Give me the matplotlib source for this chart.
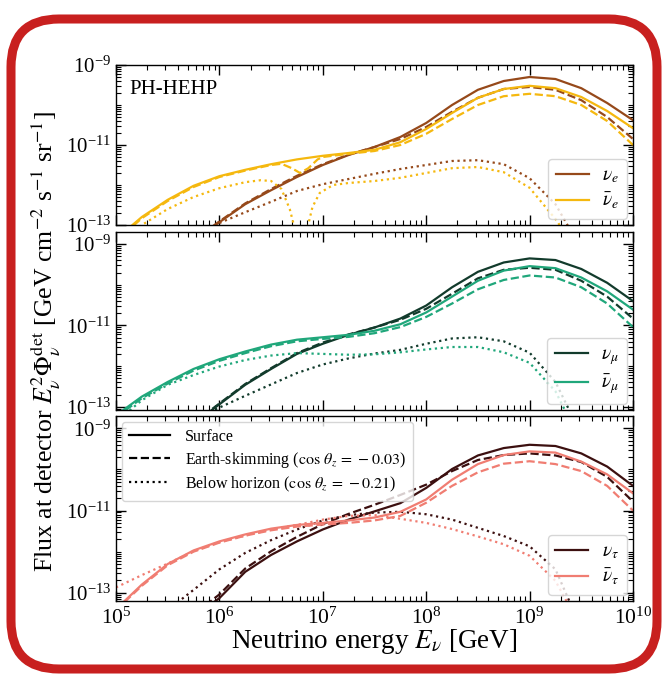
import numpy as np
import matplotlib
matplotlib.use("Agg")
import matplotlib.pyplot as plt
from matplotlib.lines import Line2D
from matplotlib.patches import FancyBboxPatch
from matplotlib.ticker import FixedLocator, LogLocator, NullFormatter, LogFormatterSciNotation

plt.rcParams['font.family'] = ['Liberation Serif', 'DejaVu Serif']
plt.rcParams['mathtext.fontset'] = 'stix'

nan = np.nan

# ---------------- data (log10 values) ----------------
LOG_E = [5.0, 5.25, 5.5, 5.75, 6.0, 6.25, 6.5, 6.75, 7.0, 7.25, 7.5,
         7.75, 8.0, 8.25, 8.5, 8.75, 9.0, 9.25, 9.5, 9.75, 10.0]

# Panel 1: electron flavour
nue_surface = [nan, nan, nan, -13.4, -12.93, -12.48, -12.13, -11.8, -11.5, -11.25, -11.05,
               -10.8, -10.45, -10.0, -9.62, -9.4, -9.3, -9.35, -9.58, -9.95, -10.38]
nue_skim = [nan, nan, nan, -13.38, -12.91, -12.46, -12.1, -11.77, -11.48, -11.24, -11.05,
            -10.85, -10.55, -10.17, -9.82, -9.6, -9.55, -9.62, -9.88, -10.3, -10.85]
nue_below = [nan, nan, nan, -13.3, -12.95, -12.68, -12.42, -12.15, -11.98, -11.85, -11.72,
             -11.6, -11.5, -11.4, -11.38, -11.48, -11.83, -12.48, -13.6, nan, nan]
nuebar_surface = [-13.35, -12.8, -12.37, -12.02, -11.78, -11.62, -11.48, -11.36, -11.27, -11.2, -11.12,
                  -10.93, -10.6, -10.2, -9.82, -9.6, -9.52, -9.58, -9.8, -10.15, -10.58]
LOG_E_nuebar_skim = [5.0, 5.25, 5.5, 5.75, 6.0, 6.25, 6.5, 6.6, 6.7, 6.78, 6.86, 6.95, 7.0,
                     7.25, 7.5, 7.75, 8.0, 8.25, 8.5, 8.75, 9.0, 9.25, 9.5, 9.75, 10.0]
nuebar_skim = [-13.4, -12.83, -12.4, -12.05, -11.8, -11.64, -11.5, -11.47, -11.58, -11.7, -11.58, -11.36, -11.3,
               -11.22, -11.15, -11.0, -10.72, -10.35, -10.0, -9.78, -9.72, -9.78, -10.0, -10.4, -11.0]
LOG_E_nuebar_below = [5.0, 5.25, 5.5, 5.75, 6.0, 6.25, 6.4, 6.5, 6.6, 6.68, 6.74, 6.79, 6.84,
                      6.9, 6.97, 7.1, 7.25, 7.5, 7.75, 8.0, 8.25, 8.5, 8.75, 9.0, 9.25, 9.5]
nuebar_below = [-13.5, -13.0, -12.6, -12.3, -12.08, -11.93, -11.88, -11.9, -12.1, -12.6, -13.2, -14.5, -13.2,
                -12.55, -12.2, -12.0, -11.95, -11.9, -11.82, -11.7, -11.58, -11.55, -11.68, -12.07, -12.85, -13.8]

# Panel 2: muon flavour
numu_surface = [nan, nan, nan, -13.42, -12.94, -12.46, -12.07, -11.70, -11.45, -11.23, -11.05,
                -10.83, -10.51, -10.06, -9.68, -9.45, -9.35, -9.39, -9.61, -9.95, -10.40]
numu_skim = [nan, nan, nan, -13.40, -12.92, -12.44, -12.05, -11.68, -11.42, -11.22, -11.05,
             -10.86, -10.59, -10.22, -9.84, -9.63, -9.58, -9.63, -9.90, -10.29, -10.83]
numu_below = [nan, nan, nan, -13.3, -13.02, -12.73, -12.45, -12.17, -11.96, -11.81, -11.69,
              -11.60, -11.45, -11.32, -11.29, -11.39, -11.67, -12.39, -13.69, nan, nan]
numubar_surface = [-13.21, -12.75, -12.39, -12.07, -11.83, -11.64, -11.47, -11.35, -11.29, -11.23, -11.13,
                   -10.97, -10.68, -10.29, -9.90, -9.65, -9.54, -9.59, -9.82, -10.16, -10.61]
numubar_skim = [-13.26, -12.79, -12.43, -12.11, -11.87, -11.68, -11.51, -11.39, -11.33, -11.28, -11.19,
                -11.04, -10.79, -10.46, -10.11, -9.88, -9.77, -9.82, -10.06, -10.46, -11.04]
numubar_below = [-13.37, -12.84, -12.46, -12.22, -12.01, -11.85, -11.74, -11.68, -11.70, -11.72, -11.71,
                 -11.66, -11.59, -11.53, -11.53, -11.66, -11.92, -12.62, -13.89, nan, nan]

# Panel 3: tau flavour
nutau_surface = [nan, nan, -14.08, -13.59, -13.13, -12.49, -12.08, -11.75, -11.46, -11.22, -11.02,
                 -10.82, -10.45, -9.99, -9.66, -9.48, -9.40, -9.43, -9.61, -9.93, -10.40]
nutau_skim = [nan, nan, -14.0, -13.53, -13.04, -12.41, -11.99, -11.64, -11.33, -11.08, -10.86,
              -10.62, -10.37, -10.04, -9.77, -9.65, -9.61, -9.66, -9.82, -10.18, -10.78]
nutau_below = [nan, -14.19, -13.42, -12.93, -12.43, -12.03, -11.72, -11.46, -11.24, -11.11, -11.05,
               -11.03, -11.09, -11.22, -11.42, -11.62, -11.87, -12.43, -13.87, nan, nan]
nutaubar_surface = [-13.4, -12.8, -12.3, -11.97, -11.75, -11.58, -11.44, -11.35, -11.30, -11.24, -11.17,
                    -11.03, -10.73, -10.25, -9.87, -9.65, -9.56, -9.59, -9.81, -10.12, -10.58]
nutaubar_skim = [-13.42, -12.83, -12.33, -12.0, -11.78, -11.61, -11.48, -11.39, -11.34, -11.30, -11.24,
                 -11.13, -10.81, -10.40, -10.07, -9.86, -9.80, -9.87, -10.04, -10.40, -11.0]
nutaubar_below = [-12.87, -12.57, -12.29, -11.99, -11.77, -11.61, -11.46, -11.35, -11.22, -11.13, -11.11,
                  -11.20, -11.30, -11.45, -11.63, -11.82, -12.10, -12.71, -13.86, nan, nan]

LABELS = [(r'$\nu_e$', r'$\bar{\nu}_e$'),
          (r'$\nu_\mu$', r'$\bar{\nu}_\mu$'),
          (r'$\nu_\tau$', r'$\bar{\nu}_\tau$')]
COLORS = [('#96491a', '#f5b80f'),
          ('#123b2c', '#20a77b'),
          ('#3c1010', '#f07d72')]
YLIMS = [(-13.0, -9.0), (-13.08, -8.7), (-13.2, -8.7)]
X_TICK_EXP = [5, 6, 7, 8, 9, 10]
Y_TICK_EXP = [-13, -11, -9]
STATES = ['Surface', r'Earth-skimming ($\cos\,\theta_z\,=\,-0.03$)',
          r'Below horizon ($\cos\,\theta_z\,=\,-0.21$)']

# ---------------- figure ----------------
fig = plt.figure(figsize=(6.69, 6.80), dpi=100)
W, H = 669.0, 680.0
left, right = 116, 633
panels_px = [(65, 225), (232, 410), (416, 601)]
axes = []
for top, bot in panels_px:
    ax = fig.add_axes([left / W, (H - bot) / H, (right - left) / W, (bot - top) / H])
    axes.append(ax)

E = 10.0 ** np.array(LOG_E)
series = [
    [(nue_surface, nue_skim, nue_below), (nuebar_surface, nuebar_skim, nuebar_below)],
    [(numu_surface, numu_skim, numu_below), (numubar_surface, numubar_skim, numubar_below)],
    [(nutau_surface, nutau_skim, nutau_below), (nutaubar_surface, nutaubar_skim, nutaubar_below)],
]

lw = 1.6
flav_kw = dict(loc='lower right', fontsize=14, handlelength=1.7, borderpad=0.4,
               labelspacing=0.3, handletextpad=0.7, borderaxespad=0.3)
for i, ax in enumerate(axes):
    cnu, cbar = COLORS[i]
    s, d, b = series[i][0]
    ax.plot(E, 10.0 ** np.array(s), color=cnu, lw=lw, ls='-')
    ax.plot(E, 10.0 ** np.array(d), color=cnu, lw=lw, ls='--')
    ax.plot(E, 10.0 ** np.array(b), color=cnu, lw=lw, ls=':')
    s, d, b = series[i][1]
    xd = 10.0 ** np.array(LOG_E_nuebar_skim) if i == 0 else E
    xb = 10.0 ** np.array(LOG_E_nuebar_below) if i == 0 else E
    ax.plot(E, 10.0 ** np.array(s), color=cbar, lw=lw, ls='-')
    ax.plot(xd, 10.0 ** np.array(d), color=cbar, lw=lw, ls='--')
    ax.plot(xb, 10.0 ** np.array(b), color=cbar, lw=lw, ls=':')

    ax.set_xscale('log')
    ax.set_yscale('log')
    ax.set_xlim(10.0 ** X_TICK_EXP[0], 10.0 ** X_TICK_EXP[-1])
    ax.set_ylim(10.0 ** YLIMS[i][0], 10.0 ** YLIMS[i][1])

    ax.xaxis.set_major_locator(FixedLocator([10.0 ** e for e in X_TICK_EXP]))
    ax.xaxis.set_minor_locator(LogLocator(base=10, subs=np.arange(2, 10), numticks=100))
    ax.yaxis.set_major_locator(FixedLocator([10.0 ** e for e in Y_TICK_EXP]))
    ax.yaxis.set_minor_locator(LogLocator(base=10, subs=np.arange(1, 10), numticks=100))
    ax.yaxis.set_major_formatter(LogFormatterSciNotation())
    ax.yaxis.set_minor_formatter(NullFormatter())
    ax.xaxis.set_minor_formatter(NullFormatter())
    ax.tick_params(which='both', direction='in', top=True, right=True, labelsize=15)
    ax.tick_params(axis='x', which='major', labelsize=15.5, pad=5)
    ax.tick_params(which='major', length=7, width=1.0)
    ax.tick_params(which='minor', length=3.5, width=0.8)
    if i < 2:
        ax.tick_params(labelbottom=False)
    for sp in ax.spines.values():
        sp.set_linewidth(1.0)

    if i < 2:
        ax.legend([Line2D([], [], color=cnu, lw=lw), Line2D([], [], color=cbar, lw=lw)],
                  LABELS[i], **flav_kw)

# bottom panel: state legend (upper left) + flavour legend (lower right)
state_handles = [Line2D([], [], color='k', lw=lw, ls='-'),
                 Line2D([], [], color='k', lw=lw, ls='--'),
                 Line2D([], [], color='k', lw=lw, ls=':')]
leg2 = axes[2].legend(state_handles, STATES, loc='upper left', fontsize=11.5,
                      handlelength=2.6, borderpad=0.45, labelspacing=0.3,
                      handletextpad=0.9, borderaxespad=0.35)
axes[2].add_artist(leg2)
axes[2].legend([Line2D([], [], color=COLORS[2][0], lw=lw), Line2D([], [], color=COLORS[2][1], lw=lw)],
               LABELS[2], **flav_kw)

axes[0].text(0.025, 0.85, 'PH-HEHP', transform=axes[0].transAxes, fontsize=15, va='center', ha='left')

fig.text(0.5 * (left + right) / W, (H - 642) / H, r'Neutrino energy $E_\nu$ [GeV]',
         ha='center', va='center', fontsize=19.5)
fig.text(46 / W, (H - 342) / H,
         r'Flux at detector $E_\nu^2\Phi_\nu^{\rm det}$ [GeV cm$^{-2}$ s$^{-1}$ sr$^{-1}$]',
         ha='center', va='center', rotation=90, fontsize=18.5)

frame = FancyBboxPatch((11, H - 669), 646, 650, boxstyle="round,pad=0,rounding_size=48",
                       transform=None, fill=False, edgecolor='#c8201f', linewidth=6.5)
fig.add_artist(frame)

fig.savefig('out.png', dpi=100)
